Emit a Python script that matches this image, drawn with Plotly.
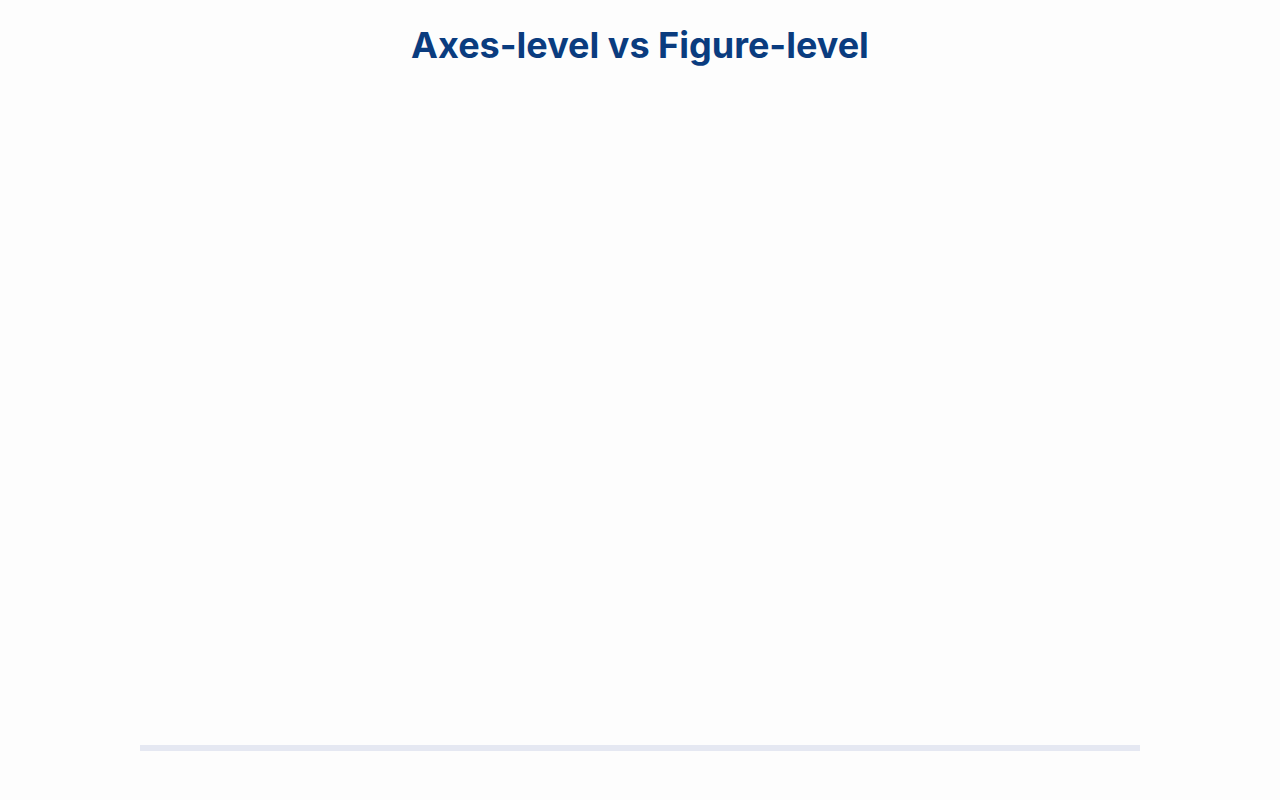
import plotly.graph_objects as go

title_text = "Axes-level vs Figure-level"
x_values = []
y_values = []

fig = go.Figure()
fig.add_trace(go.Scatter(x=x_values, y=y_values, mode="lines", showlegend=False))

fig.update_layout(
    width=1280,
    height=800,
    paper_bgcolor="#fdfdfd",
    plot_bgcolor="#fdfdfd",
    margin=dict(l=140, r=140, t=100, b=49),
    title=dict(
        text="<b>" + title_text + "</b>",
        x=0.5,
        xanchor="center",
        y=0.943,
        yanchor="middle",
        font=dict(family="Inter, Open Sans, sans-serif", size=36, color="#0a3c7f"),
    ),
    xaxis=dict(visible=False),
    yaxis=dict(visible=False),
    shapes=[
        dict(
            type="rect",
            xref="paper",
            yref="paper",
            x0=0,
            x1=1,
            ysizemode="pixel",
            yanchor=0,
            y0=0,
            y1=6,
            fillcolor="#e5e8f2",
            line=dict(width=0),
            layer="below",
        )
    ],
)

fig.write_html(
    "out.html",
    config={"displayModeBar": False},
    post_script="document.body.style.margin='0';",
)
